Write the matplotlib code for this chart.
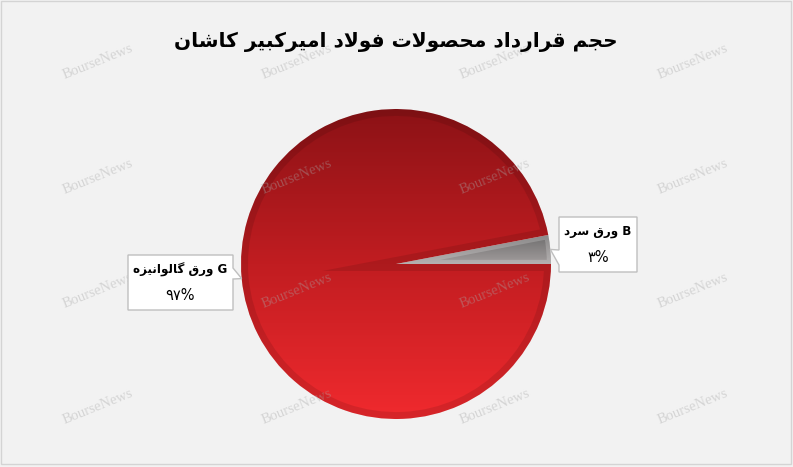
import numpy as np
import matplotlib
matplotlib.use("Agg")
import matplotlib.pyplot as plt
from matplotlib.colors import LinearSegmentedColormap
from matplotlib.patches import Polygon, Rectangle, Wedge

# chart data
title = "حجم قرارداد محصولات فولاد امیرکبیر کاشان"
labels = ["ورق سرد", "ورق گالوانیزه"]
codes = ["B", "G"]
values = [3, 97]
pct_text = ["۳%", "۹۷%"]

# persian letters -> presentation forms (isolated, final, initial, medial)
FORMS = {
    'ا': ('\uFE8D', '\uFE8E'),
    'ب': ('\uFE8F', '\uFE90', '\uFE91', '\uFE92'),
    'ت': ('\uFE95', '\uFE96', '\uFE97', '\uFE98'),
    'ج': ('\uFE9D', '\uFE9E', '\uFE9F', '\uFEA0'),
    'ح': ('\uFEA1', '\uFEA2', '\uFEA3', '\uFEA4'),
    'د': ('\uFEA9', '\uFEAA'),
    'ر': ('\uFEAD', '\uFEAE'),
    'ز': ('\uFEAF', '\uFEB0'),
    'س': ('\uFEB1', '\uFEB2', '\uFEB3', '\uFEB4'),
    'ش': ('\uFEB5', '\uFEB6', '\uFEB7', '\uFEB8'),
    'ص': ('\uFEB9', '\uFEBA', '\uFEBB', '\uFEBC'),
    'ف': ('\uFED1', '\uFED2', '\uFED3', '\uFED4'),
    'ق': ('\uFED5', '\uFED6', '\uFED7', '\uFED8'),
    'ل': ('\uFEDD', '\uFEDE', '\uFEDF', '\uFEE0'),
    'م': ('\uFEE1', '\uFEE2', '\uFEE3', '\uFEE4'),
    'ن': ('\uFEE5', '\uFEE6', '\uFEE7', '\uFEE8'),
    'ه': ('\uFEE9', '\uFEEA', '\uFEEB', '\uFEEC'),
    'و': ('\uFEED', '\uFEEE'),
    'ی': ('\uFBFC', '\uFBFD', '\uFBFE', '\uFBFF'),
    'ک': ('\uFB8E', '\uFB8F', '\uFB90', '\uFB91'),
    'گ': ('\uFB92', '\uFB93', '\uFB94', '\uFB95'),
}


def joins_next(c):
    return c in FORMS and len(FORMS[c]) == 4


def rtl(text):
    res = []
    i = 0
    n = len(text)
    while i < n:
        c = text[i]
        prev = text[i - 1] if i > 0 else None
        nxt = text[i + 1] if i + 1 < n else None
        if c not in FORMS:
            res.append(c)
            i += 1
            continue
        link_prev = prev is not None and joins_next(prev)
        if c == 'ل' and nxt == 'ا':
            res.append('\uFEFC' if link_prev else '\uFEFB')
            i += 2
            continue
        link_next = joins_next(c) and nxt in FORMS
        f = FORMS[c]
        if link_prev and link_next:
            g = f[3]
        elif link_prev:
            g = f[1]
        elif link_next:
            g = f[2]
        else:
            g = f[0]
        res.append(g)
        i += 1
    return ''.join(reversed(res))


W, H = 793, 467
fig = plt.figure(figsize=(W / 100, H / 100), dpi=100, facecolor="#f2f2f2")
ax = fig.add_axes([0, 0, 1, 1])
ax.set_facecolor("#f2f2f2")


def Y(y):
    # pixel row (top down) -> data y
    return H - y


cx, cy, R = 396, Y(264), 155

wedges, _ = ax.pie(values, startangle=0, center=(cx, cy), radius=R,
                   colors=["none", "none"], wedgeprops=dict(linewidth=0))

red_cmap = LinearSegmentedColormap.from_list("red", ["#f02a2e", "#c11d21", "#8c1216"])
gray_cmap = LinearSegmentedColormap.from_list("gray", ["#a29d9d", "#6d6c6c"])
grad = np.linspace(0, 1, 256).reshape(-1, 1)

# gray slice (B) and red slice (G) with vertical gradients
im = ax.imshow(grad, extent=[cx - R, cx + R, cy, cy + R * np.sin(np.radians(values[0] * 3.6))],
               origin="lower", cmap=gray_cmap, aspect="auto", zorder=2)
im.set_clip_path(wedges[0])
im = ax.imshow(grad, extent=[cx - R, cx + R, cy - R, cy + R],
               origin="lower", cmap=red_cmap, aspect="auto", zorder=2)
im.set_clip_path(wedges[1])

# bevel rims
for w, col, lw in [(wedges[0], (1, 1, 1, 0.2), 6), (wedges[1], (0, 0, 0, 0.10), 10)]:
    rim = Wedge(w.center, w.r, w.theta1, w.theta2, facecolor="none",
                edgecolor=col, linewidth=lw, zorder=3)
    ax.add_patch(rim)
    rim.set_clip_path(w)

# watermarks
for wx in [98, 297, 495, 693]:
    for wy in [62, 177, 291, 407]:
        ax.text(wx, Y(wy), "BourseNews", family="Liberation Serif", fontsize=10.5,
                color="#a8a8a8", alpha=0.4, rotation=22, ha="center", va="center", zorder=4)

# callout labels
boxes = [(559, 637, 217, 272), (128, 233, 255, 310)]
for i, (x0, x1, y0, y1) in enumerate(boxes):
    mid = np.radians(values[0] * 3.6 / 2 if i == 0 else values[0] * 3.6 + values[1] * 3.6 / 2)
    tx, ty = cx + R * np.cos(mid), cy + R * np.sin(mid)
    if i == 0:
        pts = [(x0, Y(y0)), (x1, Y(y0)), (x1, Y(y1)), (x0, Y(y1)), (x0, Y(265)), (tx, ty), (x0, Y(250))]
    else:
        pts = [(x0, Y(y0)), (x1, Y(y0)), (x1, Y(268)), (tx, ty), (x1, Y(279)), (x1, Y(y1)), (x0, Y(y1))]
    ax.add_patch(Polygon(pts, closed=True, facecolor="white", edgecolor="#bfbfbf",
                         linewidth=1, zorder=5))
    xm = (x0 + x1) / 2
    ax.text(xm, Y(y0 + 15), rtl(labels[i]) + " " + codes[i], family="DejaVu Sans",
            fontweight="bold", fontsize=8.6, ha="center", va="center", zorder=6)
    ax.text(xm, Y(y0 + 41), pct_text[i], family="DejaVu Sans",
            fontsize=10.5, ha="center", va="center", zorder=6)

ax.text(396, Y(42), rtl(title), family="DejaVu Sans", fontweight="bold",
        fontsize=14.5, ha="center", va="center", zorder=6)

ax.add_patch(Rectangle((1, Y(464)), W - 3, 463, facecolor="none",
                       edgecolor="#d4d4d4", linewidth=1, zorder=7))

ax.set_xlim(0, W)
ax.set_ylim(0, H)
ax.set_aspect("auto")
ax.axis("off")

fig.savefig("out.png", dpi=100, facecolor=fig.get_facecolor())
